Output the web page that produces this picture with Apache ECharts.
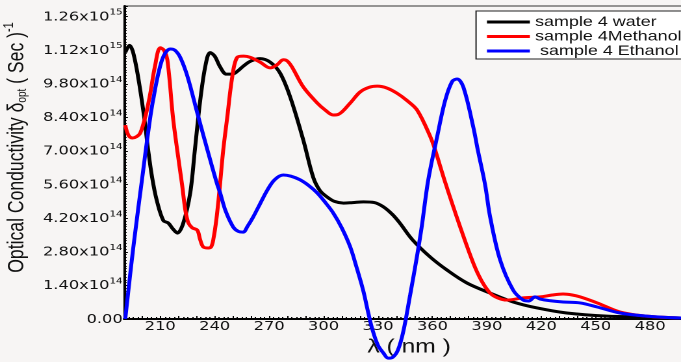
<!DOCTYPE html>
<html>
<head>
<meta charset="utf-8">
<script src="https://cdn.jsdelivr.net/npm/echarts@6/dist/echarts.min.js"></script>
<style>
  html, body { margin: 0; padding: 0; overflow: hidden; background: #f7f5f4; }
  #wrap { width: 681px; height: 362px; overflow: hidden; position: relative; }
  /* the chart is laid out narrower and widened horizontally, giving the wide lettering */
  #chart { width: 524px; height: 362px; transform: scaleX(1.2996); transform-origin: 0 0; }
</style>
</head>
<body>
<div id="wrap"><div id="chart"></div></div>
<script>
// Optical conductivity, in units of 1e14 (Sec)^-1, against wavelength in nm
const seriesNames = ['sample 4 water', 'sample 4Methanol', ' sample 4 Ethanol'];
const seriesColors = ['#000000', '#ff0000', '#0000ff'];

const waterData = [
  [190.7, 11.1], [193, 11.4], [196, 10.8], [200.6, 8.7], [203.4, 7.0], [205.5, 5.9],
  [208, 4.96], [211.7, 4.1], [214.4, 4.0], [217, 3.75], [219.4, 3.58], [222.7, 4.0],
  [226.5, 5.25], [229, 7.0], [232, 9.1], [235, 10.6], [237.5, 11.1], [240, 10.95],
  [243, 10.5], [246.5, 10.2], [249.7, 10.2], [253, 10.35], [256, 10.55], [260, 10.75],
  [265, 10.85], [270.6, 10.7], [276, 10.25], [281.6, 9.25], [288.8, 7.46], [294.3, 5.9],
  [298, 5.35], [302, 5.08], [306, 4.9], [311, 4.83], [316, 4.85], [322, 4.88],
  [328, 4.85], [333, 4.67], [338, 4.35], [342, 4.0], [349, 3.3], [358.8, 2.58],
  [368, 2.04], [379, 1.5], [391.8, 1.08], [404.5, 0.71], [417.7, 0.46], [434, 0.25],
  [456, 0.12], [478, 0.08], [497, 0.04]
];

const methanolData = [
  [190.7, 8.08], [192.5, 7.65], [194.6, 7.54], [197, 7.6], [199, 7.75], [202, 8.5],
  [204.5, 9.4], [207, 10.5], [210, 11.3], [212, 11.2], [213.9, 10.8], [217, 8.4],
  [219.4, 7.0], [222, 5.6], [223.8, 4.54], [225.5, 4.0], [227.6, 3.8], [230.4, 3.7],
  [232, 3.3], [233.7, 3.0], [236.4, 2.96], [238, 3.0], [239.2, 3.3], [241, 4.2],
  [243, 5.67], [244.7, 7.04], [246.9, 8.4], [249.7, 10.1], [252.4, 10.9], [256, 10.95],
  [259.6, 10.9], [265, 10.7], [270.6, 10.46], [274.5, 10.6], [277.8, 10.8], [280, 10.75],
  [282.6, 10.5], [288.8, 9.67], [296.5, 9.0], [301, 8.7], [305.3, 8.5], [308, 8.52],
  [314.7, 9.0], [320, 9.45], [325, 9.65], [329.6, 9.7], [335, 9.62], [340.6, 9.4],
  [346, 9.1], [351.6, 8.7], [358.8, 7.6], [361.5, 7.04], [367, 5.7], [375.3, 3.83],
  [382.5, 2.33], [387, 1.6], [391.8, 1.08], [396, 0.88], [401, 0.79], [410, 0.88],
  [419.4, 0.92], [426, 1.0], [432, 1.04], [437, 1.0], [441.4, 0.92], [450.8, 0.67],
  [463.4, 0.29], [478, 0.12], [497, 0.04]
];

const ethanolData = [
  [190.7, 0], [195, 2.9], [200.6, 6.2], [203, 7.6], [206, 9.1], [211, 10.8],
  [215.5, 11.25], [218, 11.2], [221, 10.9], [225, 10.1], [230.4, 8.58], [236, 7.04],
  [241.4, 5.6], [243, 5.25], [246, 4.5], [250.2, 3.83], [253, 3.65], [255.7, 3.62],
  [258, 3.85], [261.2, 4.25], [265, 4.8], [269, 5.37], [273, 5.8], [277.8, 6.0],
  [282, 5.95], [287, 5.8], [292, 5.55], [296.5, 5.25], [301, 4.85], [305.3, 4.42],
  [310, 3.8], [314.7, 3.0], [318, 2.2], [321.8, 1.2], [324.5, 0.3], [327, -0.46],
  [330, -1.1], [333, -1.42], [335.6, -1.63], [338, -1.6], [341, -1.29], [344, -0.5],
  [347.7, 1.0], [351, 2.4], [354, 3.8], [357.7, 5.8], [362.6, 7.6], [367, 9.1],
  [370.9, 9.9], [373.6, 10.0], [377, 9.67], [382.5, 8.0], [385, 7.04], [389, 5.6],
  [391.8, 4.25], [397.3, 2.46], [404.5, 1.2], [410, 0.79], [413, 0.75], [416.6, 0.92],
  [419.4, 0.83], [425, 0.76], [432, 0.71], [441.4, 0.67], [450.8, 0.5], [463.4, 0.25],
  [478, 0.12], [497, 0.04]
];

// axis tick labels
const xTickLabels = [210, 240, 270, 300, 330, 360, 390, 420, 450, 480];
const yStep = 1.4;
const yTickLabels = [
  ['0.00', ''], ['1.40x10', '14'], ['2.80x10', '14'], ['4.20x10', '14'], ['5.60x10', '14'],
  ['7.00x10', '14'], ['8.40x10', '14'], ['9.80x10', '14'], ['1.12x10', '15'], ['1.26x10', '15']
];

const chart = echarts.init(document.getElementById('chart'), null, { devicePixelRatio: 2 });

const allData = [waterData, methanolData, ethanolData];

chart.setOption({
  backgroundColor: '#f7f5f4',
  animation: false,
  grid: {
    left: 95.4, right: -4.2, top: 6, bottom: 43,
    outerBoundsMode: 'none',
    containLabel: false,
    show: true, borderColor: '#333', borderWidth: 1, backgroundColor: 'transparent'
  },
  legend: {
    data: seriesNames,
    orient: 'vertical',
    left: 366.3, top: 11,
    itemGap: 0.5,
    itemWidth: 33, itemHeight: 3,
    icon: 'rect',
    padding: [4, 4, 1, 8.4],
    borderColor: '#222', borderWidth: 1,
    backgroundColor: '#ffffff',
    textStyle: { fontFamily: 'Liberation Sans', fontSize: 13.8, color: '#111', lineHeight: 14, padding: [0, 0, 0, -1] }
  },
  xAxis: {
    type: 'value',
    min: 190, max: 500, interval: 10,
    name: 'λ ( nm )',
    nameLocation: 'middle',
    nameGap: 19,
    nameTextStyle: { fontFamily: 'Liberation Sans', fontSize: 19, color: '#111', padding: [0, 0, 0, 6] },
    axisLine: { lineStyle: { color: '#000', width: 2 } },
    axisTick: { show: true, inside: true, length: 3, lineStyle: { color: '#000', width: 1 } },
    minorTick: { show: true, splitNumber: 4, length: 2, lineStyle: { color: '#000', width: 1 } },
    splitLine: { show: false },
    axisLabel: {
      margin: 1,
      fontFamily: 'DejaVu Sans', fontSize: 12.5, color: '#111',
      formatter: v => (xTickLabels.indexOf(Math.round(v)) >= 0 ? String(Math.round(v)) : '')
    }
  },
  yAxis: {
    type: 'value',
    min: 0, max: 13.04, interval: yStep,
    name: 'Optical Conductivity δ{sub|opt} ( Sec ){sup|-1}',
    nameLocation: 'middle',
    nameRotate: 90,
    nameGap: 65,
    nameTextStyle: {
      fontFamily: 'Liberation Sans', fontSize: 17.6, color: '#111',
      padding: [0, 0, 0, 30],
      rich: {
        sub: { fontFamily: 'Liberation Sans', fontSize: 10, color: '#111', padding: [8, 0, 0, 0] },
        sup: { fontFamily: 'Liberation Sans', fontSize: 11, color: '#111', padding: [0, 0, 12, 0] }
      }
    },
    axisLine: { show: true, lineStyle: { color: '#000', width: 2 } },
    axisTick: { show: true, inside: true, length: 3, lineStyle: { color: '#000', width: 1 } },
    minorTick: { show: true, splitNumber: 12, length: 2, lineStyle: { color: '#000', width: 1 } },
    splitLine: { show: false },
    axisLabel: {
      margin: 1,
      formatter: function (v) {
        const t = yTickLabels[Math.round(v / yStep)];
        if (!t) return '';
        return t[1] ? '{m|' + t[0] + '}{e|' + t[1] + '}' : '{m|' + t[0] + '}';
      },
      rich: {
        m: { fontFamily: 'DejaVu Sans', fontSize: 12.5, color: '#111', lineHeight: 14, verticalAlign: 'bottom' },
        e: { fontFamily: 'DejaVu Sans', fontSize: 8, color: '#111', lineHeight: 10, verticalAlign: 'bottom', padding: [0, 0, 7, 0] }
      }
    }
  },
  series: allData.map((d, i) => ({
    name: seriesNames[i],
    type: 'line',
    data: d,
    smooth: 0.35,
    clip: false,
    showSymbol: false,
    color: seriesColors[i],
    lineStyle: { color: seriesColors[i], width: 3 },
    itemStyle: { color: seriesColors[i] },
    z: 3 + i
  }))
});
</script>
</body>
</html>
